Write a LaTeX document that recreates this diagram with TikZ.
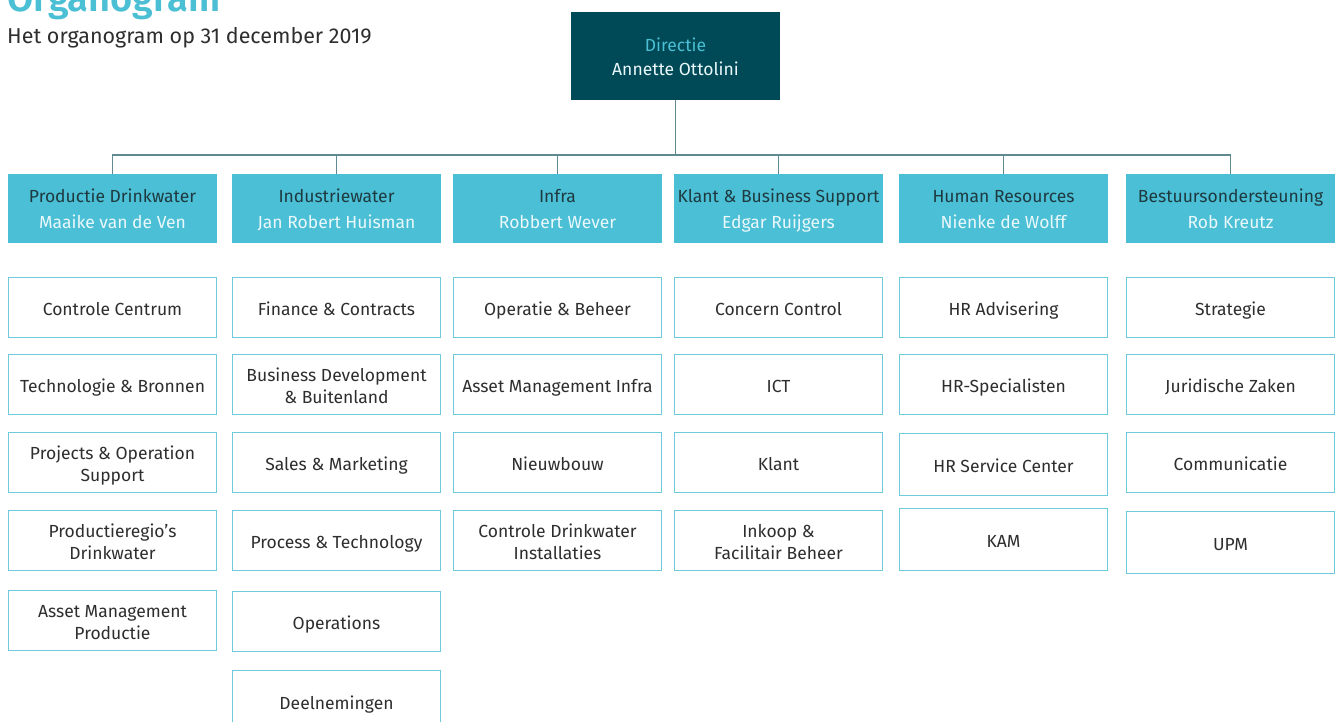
\documentclass[tikz,border=0pt]{standalone}
\usepackage{fontspec}
\setmainfont{Fira Sans}[BoldFont={Fira Sans SemiBold}]
\definecolor{dirfill}{HTML}{004A57}
\definecolor{headfill}{HTML}{4BBFD5}
\definecolor{subline}{HTML}{6FCBDC}
\definecolor{conn}{HTML}{5F8A92}
\definecolor{txt}{HTML}{2E2E2E}
\definecolor{headtxt}{HTML}{1E3A40}
\definecolor{headname}{HTML}{EAF8FB}
\definecolor{lightcyan}{HTML}{4BBFD4}
\newcommand\topstrut{\rule{0pt}{20pt}}
\newcommand\botstrut[1]{\rule[-#1pt]{0pt}{0pt}}
\begin{document}
\begin{tikzpicture}[x=1pt,y=-1pt,
  base/.style={inner sep=0pt,align=center,font=\fontsize{17.5}{22}\selectfont},
  dirbox/.style={base,fill=dirfill,minimum width=209,minimum height=88,text=headname,font=\fontsize{17.5}{24}\selectfont},
  headbox/.style={base,fill=headfill,minimum width=209,minimum height=69,text=headtxt,font=\fontsize{17.5}{26}\selectfont},
  subbox/.style={base,draw=subline,line width=1pt,fill=white,minimum width=208,minimum height=60,text=txt},
  one/.style={execute at begin node={\topstrut}, execute at end node={\botstrut{4}}},
  link/.style={draw=conn,line width=1.4pt}]
\useasboundingbox (0,0) rectangle (1338,722);
\fill[white] (0,0) rectangle (1338,722);
% title
\node[anchor=base west,inner sep=0pt,text=lightcyan,font=\fontsize{38}{42}\bfseries\selectfont] (title) at (7,12) {Organogram};
\node[anchor=base west,inner sep=0pt,text=txt,font=\fontsize{21.5}{24}\selectfont] (subtitle) at (7,44) {Het organogram op 31 december 2019};
% directie
\node[dirbox] (dir) at (675.5,56) {\topstrut{\color{lightcyan}Directie}\\Annette Ottolini\botstrut{4}};
% heads
\node[headbox] (h1) at (112.5,208.5) {\topstrut Productie Drinkwater\\{\color{headname}Maaike van de Ven}\botstrut{5}};
\node[headbox] (h2) at (336.5,208.5) {\topstrut Industriewater\\{\color{headname}Jan Robert Huisman}\botstrut{5}};
\node[headbox] (h3) at (557.5,208.5) {\topstrut Infra\\{\color{headname}Robbert Wever}\botstrut{5}};
\node[headbox] (h4) at (778.5,208.5) {\topstrut Klant \& Business Support\\{\color{headname}Edgar Ruijgers}\botstrut{5}};
\node[headbox] (h5) at (1003.5,208.5) {\topstrut Human Resources\\{\color{headname}Nienke de Wolff}\botstrut{5}};
\node[headbox] (h6) at (1230.5,208.5) {\topstrut Bestuursondersteuning\\{\color{headname}Rob Kreutz}\botstrut{5}};
% connectors
\coordinate (bus) at (0,155);
\draw[link] (dir.south) -- (dir.south |- bus);
\draw[link] (h1.north) -- (h1.north |- bus) -- (h6.north |- bus) -- (h6.north);
\foreach \h in {h2,h3,h4,h5} \draw[link] (\h.north) -- (\h.north |- bus);
% column 1
\node[subbox,one] (a1) at (112.5,307) {Controle Centrum};
\node[subbox,one] (a2) at (112.5,384.5) {Technologie \& Bronnen};
\node[subbox] (a3) at (112.5,462) {\topstrut Projects \& Operation\\Support\botstrut{4}};
\node[subbox] (a4) at (112.5,540) {\topstrut Productieregio’s\\Drinkwater\botstrut{4}};
\node[subbox] (a5) at (112.5,620) {\topstrut Asset Management\\Productie\botstrut{4}};
% column 2
\node[subbox,one] (b1) at (336.5,307) {Finance \& Contracts};
\node[subbox] (b2) at (336.5,384.5) {\topstrut Business Development\\\& Buitenland\botstrut{4}};
\node[subbox,one] (b3) at (336.5,462) {Sales \& Marketing};
\node[subbox,one] (b4) at (336.5,540) {Process \& Technology};
\node[subbox,one] (b5) at (336.5,621) {Operations};
\node[subbox,one,minimum height=62] (b6) at (336.5,701) {Deelnemingen};
% column 3
\node[subbox,one] (c1) at (557.5,307) {Operatie \& Beheer};
\node[subbox,one] (c2) at (557.5,384.5) {Asset Management Infra};
\node[subbox,one] (c3) at (557.5,462) {Nieuwbouw};
\node[subbox] (c4) at (557.5,540.5) {\topstrut Controle Drinkwater\\Installaties\botstrut{4}};
% column 4
\node[subbox,one] (d1) at (778.5,307) {Concern Control};
\node[subbox,one] (d2) at (778.5,384.5) {ICT};
\node[subbox,one] (d3) at (778.5,462) {Klant};
\node[subbox] (d4) at (778.5,540.5) {\topstrut Inkoop \&\\Facilitair Beheer\botstrut{4}};
% column 5
\node[subbox,one] (e1) at (1003.5,307) {HR Advisering};
\node[subbox,one] (e2) at (1003.5,384.5) {HR-Specialisten};
\node[subbox,one,minimum height=62] (e3) at (1003.5,464) {HR Service Center};
\node[subbox,one,minimum height=62] (e4) at (1003.5,539.5) {KAM};
% column 6
\node[subbox,one] (f1) at (1230.5,307) {Strategie};
\node[subbox,one] (f2) at (1230.5,384.5) {Juridische Zaken};
\node[subbox,one] (f3) at (1230.5,462) {Communicatie};
\node[subbox,one,minimum height=62] (f4) at (1230.5,542) {UPM};
\end{tikzpicture}
\end{document}
